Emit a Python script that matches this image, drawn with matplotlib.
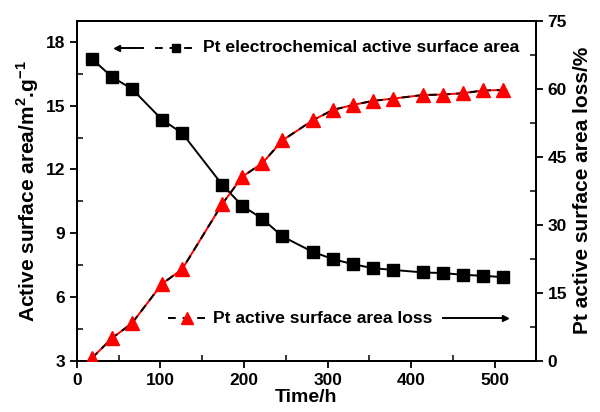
import matplotlib
matplotlib.use("Agg")
import matplotlib.pyplot as plt
from matplotlib.ticker import MultipleLocator

plt.rcParams['font.family'] = ['Liberation Sans', 'DejaVu Sans']
plt.rcParams['font.weight'] = 'bold'
plt.rcParams['mathtext.fontset'] = 'custom'
plt.rcParams['mathtext.rm'] = 'Liberation Sans:bold'
plt.rcParams['mathtext.bf'] = 'Liberation Sans:bold'

time_h = [18, 42, 66, 102, 126, 174, 198, 222, 246, 282, 306, 330, 354, 378, 414, 438, 462, 486, 510]
ecsa = [17.21, 16.35, 15.79, 14.34, 13.71, 11.28, 10.29, 9.68, 8.85, 8.13, 7.79, 7.55, 7.36, 7.28, 7.16, 7.13, 7.05, 7.00, 6.94]
loss = [0.6, 5.0, 8.3, 17.0, 20.2, 34.6, 40.6, 43.6, 48.6, 53.0, 55.3, 56.4, 57.3, 57.8, 58.6, 58.7, 59.0, 59.6, 59.7]

label_ecsa = "Pt electrochemical active surface area"
label_loss = "Pt active surface area loss"

fig = plt.figure(figsize=(6.0, 4.12), dpi=100)
ax = fig.add_axes([0.128, 0.124, 0.765, 0.826])
ax2 = ax.twinx()

ax.plot(time_h, ecsa, color='black', lw=1.4, marker='s', ms=8.5, mfc='black', mec='black', zorder=3)
ax2.plot(time_h, loss, color='red', lw=1.4, zorder=2)
ax2.plot(time_h, loss, color='black', lw=1.4, ls=(0, (4, 3)), marker='^', ms=10,
         mfc='red', mec='red', zorder=3)

ax.set_xlim(0, 549)
ax.set_ylim(3, 19)
ax2.set_ylim(0, 75)

ax.xaxis.set_major_locator(MultipleLocator(100))
ax.xaxis.set_minor_locator(MultipleLocator(50))
ax.yaxis.set_major_locator(MultipleLocator(3))
ax.yaxis.set_minor_locator(MultipleLocator(1.5))
ax2.yaxis.set_major_locator(MultipleLocator(15))
ax2.yaxis.set_minor_locator(MultipleLocator(7.5))

for a in (ax, ax2):
    a.tick_params(which='major', direction='out', length=5, width=1.3, labelsize=12.5)
    a.tick_params(which='minor', direction='in', length=4, width=1.1)
    for s in a.spines.values():
        s.set_linewidth(1.4)
ax.tick_params(axis='y', which='both', right=False)
ax.tick_params(axis='x', which='both', top=False)
ax2.tick_params(axis='x', which='both', top=False, bottom=False)

ax.set_xlabel("Time/h", fontsize=14, fontweight='bold', labelpad=1)
ax.set_ylabel(r"Active surface area/m$^{2}$.g$^{-1}$", fontsize=15, fontweight='bold', labelpad=3)
ax2.set_ylabel("Pt active surface area loss/%", fontsize=15, fontweight='bold', labelpad=4)

# Origin-style legend annotations
t = ax.transAxes
ax.plot([0.087, 0.144], [0.92, 0.92], color='black', lw=1.4, transform=t, clip_on=False)
ax.plot([0.087], [0.92], marker='<', ms=5, color='black', transform=t)
ax.plot([0.170, 0.261], [0.92, 0.92], color='black', lw=1.4, ls=(0, (4, 3.5)), transform=t)
ax.plot([0.216], [0.92], marker='s', ms=6, color='black', transform=t)
ax.text(0.2745, 0.92, label_ecsa, transform=t, fontsize=12.6, fontweight='bold', va='center', ha='left')

ax.plot([0.198, 0.283], [0.126, 0.126], color='black', lw=1.4, ls=(0, (4, 3.5)), transform=t)
ax.plot([0.240], [0.126], marker='^', ms=9, mfc='red', mec='red', transform=t)
ax.text(0.296, 0.126, label_loss, transform=t, fontsize=12.6, fontweight='bold', va='center', ha='left')
ax.plot([0.797, 0.932], [0.126, 0.126], color='black', lw=1.4, transform=t)
ax.plot([0.932], [0.126], marker='>', ms=5, color='black', transform=t)

fig.savefig("out.png", dpi=100)
